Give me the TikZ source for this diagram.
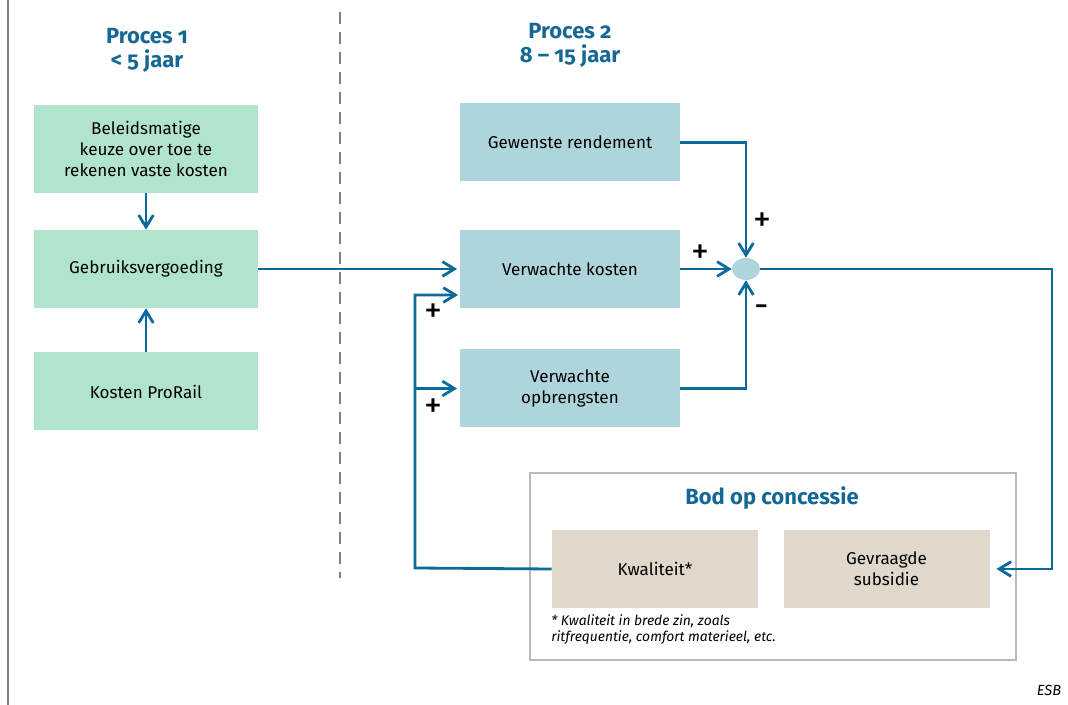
\documentclass[tikz,border=0pt]{standalone}
\usepackage{fontspec}
\setmainfont{Fira Sans}[Numbers=OldStyle]
\usepackage{xcolor}
\usepackage{tikz}
\usetikzlibrary{positioning,shapes.geometric,arrows.meta}

\definecolor{procgreen}{RGB}{176,228,204}
\definecolor{procblue}{RGB}{174,212,220}
\definecolor{bidbeige}{RGB}{223,216,203}
\definecolor{linkblue}{RGB}{10,106,154}
\definecolor{headblue}{RGB}{22,104,148}
\definecolor{framegray}{RGB}{185,185,185}

\begin{document}
\begin{tikzpicture}[x=0.75pt, y=-0.75pt, font=\fontsize{12.8}{15.5}\selectfont,
  box/.style={rectangle, minimum width=168pt, minimum height=58.5pt, align=center, inner sep=2pt},
  greenbox/.style={box, fill=procgreen},
  bluebox/.style={box, fill=procblue, minimum width=165pt},
  beigebox/.style={box, fill=bidbeige, minimum width=154.5pt},
  header/.style={align=center, text=headblue, font=\fontsize{16.5}{18}\selectfont\bfseries},
  sign/.style={inner sep=0pt, font=\fontsize{27}{27}\selectfont},
  link/.style={draw=linkblue, line width=2.1pt, -{Straight Barb[length=9pt,width=11pt]}}]
\useasboundingbox (0,0) rectangle (1068,705);

% frame lines
\draw[gray, line width=1.1pt] (8,0) -- (8,705);
\draw[gray, line width=0.9pt, dash pattern=on 9pt off 6pt] (340,12) -- (340,578);

% headers
\node[header] (head1) at (147,50) {Proces 1\\< 5 jaar};
\node[header] (head2) at (570,45) {Proces 2\\8 -- 15 jaar};

% proces 1
\node[greenbox, minimum height=66pt] (keuze) at (146,149) {Beleidsmatige\\keuze over toe te\\rekenen vaste kosten};
\node[greenbox] (gebruik) at (146,269) {Gebruiksvergoeding};
\node[greenbox] (prorail) at (146,391.5) {Kosten ProRail};

% proces 2
\node[bluebox] (rendement) at (570,142.5) {Gewenste rendement};
\node[bluebox] (kosten) at (570,269) {Verwachte kosten};
\node[bluebox] (opbrengst) at (570,388.5) {Verwachte\\opbrengsten};
\node[ellipse, fill=procblue, minimum width=21pt, minimum height=16.5pt, inner sep=0pt] (sum) at (746,269) {};

% bod op concessie
\draw[framegray, line width=0.9pt] (530,473) rectangle (1016,660);
\node[header] (bod) at (772,498) {Bod op concessie};
\node[beigebox] (kwaliteit) at (655,569) {Kwaliteit*};
\node[beigebox] (subsidie) at (886.5,569) {Gevraagde\\subsidie};
\node[anchor=north west, align=left, inner sep=0pt, font=\fontsize{10.4}{12.5}\selectfont\itshape] (noot) at (551,614)
  {* Kwaliteit in brede zin, zoals\\ritfrequentie, comfort materieel, etc.};

% signs
\node[sign] (plusa) at (762,222) {+};
\node[sign] (plusb) at (700,254) {+};
\node[sign] (minc) at (762,311) {-};
\node[sign] (plusd) at (433,313) {+};
\node[sign] (pluse) at (433,408) {+};

\node[font=\fontsize{11}{13}\selectfont\itshape] (esb) at (1049,690) {ESB};

% connectors
\coordinate (turn) at (1052,269);
\coordinate (fb) at (415,568);
\coordinate (kin) at (458,295);
\draw[link] (keuze) -- (gebruik);
\draw[link] (prorail) -- (gebruik);
\draw[link, shorten >=2pt] (gebruik) -- (kosten);
\draw[link] (rendement.east) -| (sum.north);
\draw[link] (kosten) -- (sum);
\draw[link] (opbrengst.east) -| (sum.south);
\draw[link, shorten >=5pt] (sum) -- (turn) |- (subsidie.east);
\draw[link] (kwaliteit.west) -- (fb) |- (kin);
\draw[link, shorten >=2pt] (fb |- opbrengst.west) -- (opbrengst.west);
\end{tikzpicture}
\end{document}
